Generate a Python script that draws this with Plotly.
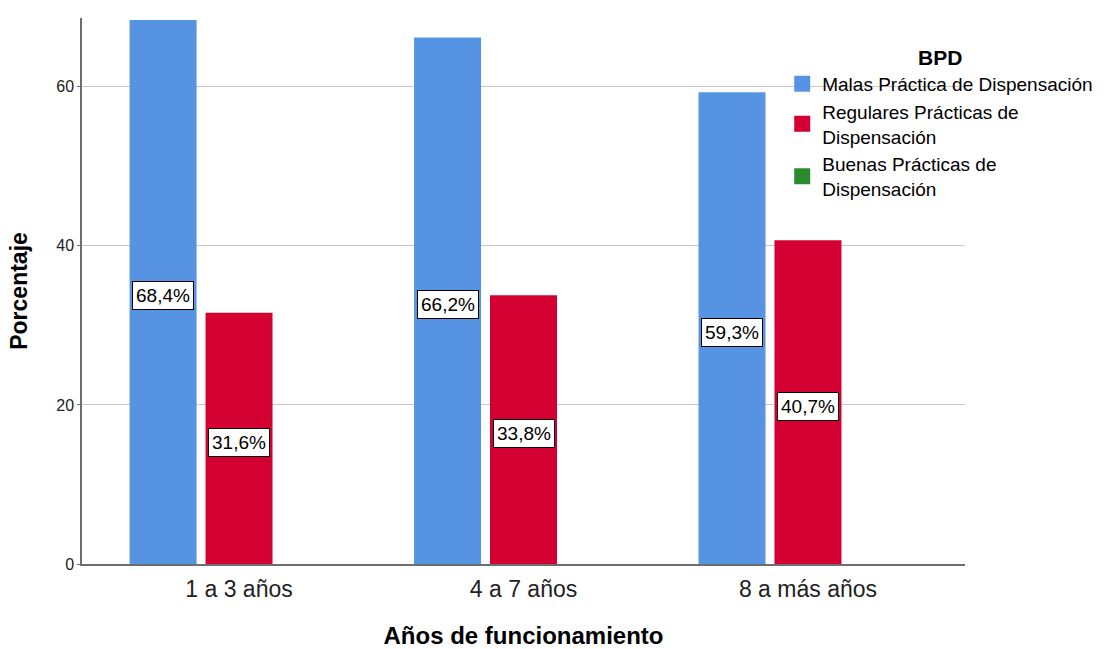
import plotly.graph_objects as go

categories = ["1 a 3 años", "4 a 7 años", "8 a más años"]
series_names = ["Malas Práctica de Dispensación",
                "Regulares Prácticas de<br>Dispensación",
                "Buenas Prácticas de<br>Dispensación"]
malas = [68.4, 66.2, 59.3]
regulares = [31.6, 33.8, 40.7]
buenas = [0.0, 0.0, 0.0]
colors = ["#5694E3", "#D50032", "#2A8A2E"]
y_ticks = [0, 20, 40, 60]

series = [malas, regulares, buenas]
FONT = "Liberation Sans, Arial, sans-serif"
bargap = 0.199
slot = (1 - bargap) / 3

fig = go.Figure()
for name, vals, col in zip(series_names, series, colors):
    fig.add_trace(go.Bar(x=categories, y=vals, name=name, showlegend=False,
                         legendgroup=name,
                         marker=dict(color=col, line=dict(width=0))))
# legend entries with larger square swatches
for name, col in zip(series_names, colors):
    fig.add_trace(go.Scatter(x=[None], y=[None], mode="markers", name=name,
                             legendgroup=name,
                             marker=dict(symbol="square", size=16, color=col)))

annotations = []
for si, vals in enumerate(series[:2]):
    off = (si - 1) * slot
    for ci, v in enumerate(vals):
        annotations.append(dict(
            x=ci + off, y=v / 2, xref="x", yref="y", yshift=-4,
            text=f"{v:.1f}%".replace(".", ","), showarrow=False,
            font=dict(family=FONT, size=19, color="#000"),
            bgcolor="white", bordercolor="#000", borderwidth=1, borderpad=3))

fig.update_layout(
    width=1113, height=649,
    margin=dict(l=82, r=148, t=18, b=85),
    paper_bgcolor="white", plot_bgcolor="white",
    barmode="group", bargap=bargap, bargroupgap=0.118,
    font=dict(family=FONT, color="#000"),
    annotations=annotations,
    legend=dict(
        x=0.793, y=0.964, xanchor="left", yanchor="top",
        bgcolor="rgba(0,0,0,0)",
        title=dict(text="<b>BPD</b>", side="top center",
                   font=dict(family=FONT, size=21, color="#000")),
        font=dict(family=FONT, size=19, color="#000"),
        tracegroupgap=0, itemsizing="trace",
    ),
    xaxis=dict(
        type="category", range=[-0.552, 2.552], automargin=False,
        showline=True, linecolor="#6e6e6e", linewidth=1.5,
        ticks="", ticklabelstandoff=4,
        tickfont=dict(family=FONT, size=23, color="#222"),
        title=dict(text="<b>Años de funcionamiento</b>",
                   font=dict(family=FONT, size=24, color="#000"), standoff=26),
        showgrid=False,
    ),
    yaxis=dict(
        range=[0, 68.65], tickvals=y_ticks, automargin=False,
        showline=True, linecolor="#6e6e6e", linewidth=1.5,
        ticks="outside", ticklen=3, tickcolor="#6e6e6e",
        tickfont=dict(family=FONT, size=16, color="#222"),
        showgrid=True, gridcolor="#c8c8c8", gridwidth=1,
        zeroline=False,
        title=dict(text="<b>Porcentaje</b>",
                   font=dict(family=FONT, size=23, color="#000"), standoff=22),
    ),
)

fig.write_html("out.html", config={"displayModeBar": False},
               post_script="document.body.style.margin='0';")
